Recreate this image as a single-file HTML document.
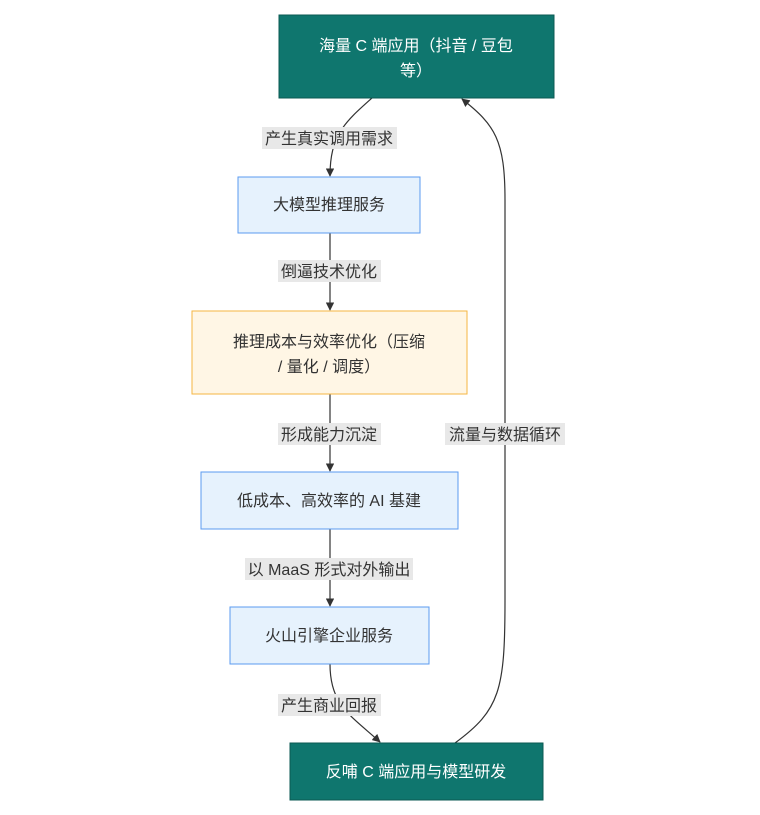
<!DOCTYPE html>
<html><head><meta charset="utf-8"><style>
body{margin:0;background:#fff;}
svg{display:block;}
text{font-family:"Liberation Sans","Noto Sans CJK SC",sans-serif;font-size:16px;}
</style></head><body>
<svg width="760" height="815" viewBox="0 0 760 815" xmlns="http://www.w3.org/2000/svg">
<defs><marker id="a" viewBox="0 0 10 10" refX="9" refY="5" markerWidth="7" markerHeight="7" orient="auto"><path d="M0,0L10,5L0,10z" fill="#333"/></marker></defs>
<g fill="none" stroke="#333" stroke-width="1.2">
<path d="M372,98 C345,122 330,135 330,176" marker-end="url(#a)"/>
<path d="M330,233 L330,310" marker-end="url(#a)"/>
<path d="M330,394 L330,471" marker-end="url(#a)"/>
<path d="M330,529 L330,606" marker-end="url(#a)"/>
<path d="M330,664 C330,705 350,715 380,742" marker-end="url(#a)"/>
<path d="M455,743 C500,710 505,690 505,600 L505,200 C505,140 495,125 462,99" marker-end="url(#a)"/>
</g>
<rect x="279" y="15" width="275" height="83" fill="#0f766e" stroke="#0b5a53"/>
<text x="416" y="51" fill="#fff" text-anchor="middle">海量 C 端应用（抖音 / 豆包</text>
<text x="416" y="76" fill="#fff" text-anchor="middle">等）</text>
<rect x="238" y="177" width="182" height="56" fill="#e6f2fd" stroke="#5b9bf0"/>
<text x="329" y="210" fill="#333" text-anchor="middle">大模型推理服务</text>
<rect x="192" y="311" width="275" height="83" fill="#fff6e5" stroke="#f5b642"/>
<text x="329" y="347" fill="#333" text-anchor="middle">推理成本与效率优化（压缩</text>
<text x="329" y="372" fill="#333" text-anchor="middle">/ 量化 / 调度）</text>
<rect x="201" y="472" width="257" height="57" fill="#e6f2fd" stroke="#5b9bf0"/>
<text x="329" y="506" fill="#333" text-anchor="middle">低成本、高效率的 AI 基建</text>
<rect x="230" y="607" width="199" height="57" fill="#e6f2fd" stroke="#5b9bf0"/>
<text x="329" y="641" fill="#333" text-anchor="middle">火山引擎企业服务</text>
<rect x="290" y="743" width="253" height="57" fill="#0f766e" stroke="#0b5a53"/>
<text x="416" y="777" fill="#fff" text-anchor="middle">反哺 C 端应用与模型研发</text>
<g fill="#e8e8e8">
<rect x="262" y="127" width="135" height="22"/>
<rect x="278" y="260" width="103" height="22"/>
<rect x="278" y="423" width="103" height="22"/>
<rect x="245" y="558" width="168" height="22"/>
<rect x="278" y="694" width="103" height="22"/>
<rect x="445" y="423" width="120" height="22"/>
</g>
<g fill="#333" text-anchor="middle">
<text x="329" y="144">产生真实调用需求</text>
<text x="329" y="277">倒逼技术优化</text>
<text x="329" y="440">形成能力沉淀</text>
<text x="329" y="575">以 MaaS 形式对外输出</text>
<text x="329" y="711">产生商业回报</text>
<text x="505" y="440">流量与数据循环</text>
</g>
</svg>
</body></html>
